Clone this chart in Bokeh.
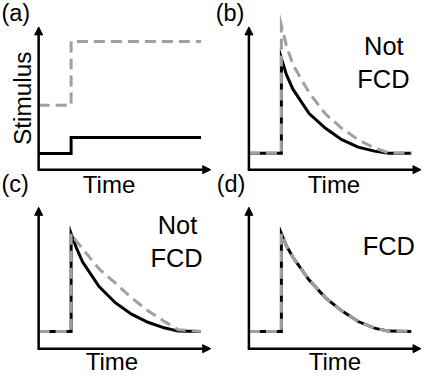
import numpy as np
from bokeh.plotting import figure
from bokeh.models import Range1d, Arrow, NormalHead, Label
from bokeh.embed import file_html
from bokeh.resources import INLINE

# ---------------- data ----------------
# (a) stimuli: time and stimulus level
stim_time = [0, 2, 2, 10]
stim_black = [1.0, 1.0, 2.0, 2.0]
stim_gray = [4.0, 4.0, 7.95, 7.95]

# response time samples
resp_time = [0, 2, 2, 2.31, 2.71, 3.71, 4.72, 5.72, 6.73, 7.73, 8.6, 10]

# (b) Not FCD
resp_b_black = [0.116, 0.116, 0.78, 0.665, 0.564, 0.393, 0.29, 0.21, 0.158, 0.13, 0.116, 0.116]
resp_b_gray = [0.116, 0.116, 1.01, 0.87, 0.735, 0.54, 0.39, 0.29, 0.21, 0.153, 0.118, 0.116]

# (c) Not FCD
resp_c_black = [0.121, 0.121, 0.806, 0.71, 0.607, 0.436, 0.322, 0.242, 0.185, 0.146, 0.123, 0.121]
resp_c_gray = [0.121, 0.121, 0.806, 0.755, 0.70, 0.56, 0.46, 0.356, 0.265, 0.192, 0.132, 0.121]

# (d) FCD (both responses identical)
resp_d_black = [0.121, 0.121, 0.806, 0.72, 0.64, 0.48, 0.356, 0.265, 0.19, 0.144, 0.123, 0.121]
resp_d_gray = list(resp_d_black)

panel_letters = ["(a)", "(b)", "(c)", "(d)"]

# ---------------- layout constants ----------------
# positions are given in reference-image pixels and mapped into the figure
W, H = 423, 374
S = 0.978            # reference px -> figure px
RX0, RY0 = 6.0, 6.0  # reference px at the figure's top-left corner
PX_T = 16.6      # ref px per time unit
PX_R = 146.0     # ref px per response unit
PX_S = 16.5      # ref px per stimulus unit
origins = {"a": (45, 179), "b": (260, 179), "c": (45, 362), "d": (260, 362)}
yscale = {"a": PX_S, "b": PX_R, "c": PX_R, "d": PX_R}
ytip = {"a": 8.85, "b": 1.0, "c": 0.99, "d": 0.99}
XTIP = 10.6

FONT = "Liberation Sans"
BLACK = "#000000"
GRAY = "#a0a0a0"

XW, YH = W / S, H / S
# default ranges: x = ref px from left, y = -(ref px from top)
p = figure(width=W, height=H,
           x_range=Range1d(RX0, RX0 + XW), y_range=Range1d(-(RY0 + YH), -RY0),
           x_axis_type=None, y_axis_type=None,
           output_backend="svg", toolbar_location=None, min_border=0, title=None)
p.outline_line_color = None
p.background_fill_color = "white"

xr, yr = {}, {}
for k, (ox, oy) in origins.items():
    py = yscale[k]
    xr["x" + k] = Range1d((RX0 - ox) / PX_T, (RX0 + XW - ox) / PX_T)
    yr["y" + k] = Range1d((oy - (RY0 + YH)) / py, (oy - RY0) / py)
p.extra_x_ranges = xr
p.extra_y_ranges = yr

# axes with arrows
for k in origins:
    kw = dict(x_range_name="x" + k, y_range_name="y" + k, line_width=2.5, line_color=BLACK)
    p.add_layout(Arrow(x_start=-0.07, y_start=0, x_end=XTIP, y_end=0,
                       end=NormalHead(size=8, fill_color=BLACK, line_color=BLACK, line_width=1), **kw))
    p.add_layout(Arrow(x_start=0, y_start=0, x_end=0, y_end=ytip[k],
                       end=NormalHead(size=8, fill_color=BLACK, line_color=BLACK, line_width=1), **kw))

series = {
    "a": (stim_time, stim_black, stim_gray),
    "b": (resp_time, resp_b_black, resp_b_gray),
    "c": (resp_time, resp_c_black, resp_c_gray),
    "d": (resp_time, resp_d_black, resp_d_gray),
}
for k, (t, yb, yg) in series.items():
    p.line(t, yb, x_range_name="x" + k, y_range_name="y" + k,
           line_color=BLACK, line_width=3, line_join="miter")
    p.line(t, yg, x_range_name="x" + k, y_range_name="y" + k,
           line_color=GRAY, line_width=3, line_dash="11 6", line_join="miter")

def lab(x, y, text, fs, align="left", angle=0):
    # (x, y) = reference position of the text's middle line
    p.add_layout(Label(x=x, y=-y, text=text, text_font=FONT,
                       text_font_size=f"{fs * S:.1f}px", text_align=align,
                       text_baseline="middle", angle=angle, angle_units="deg",
                       text_color=BLACK))

def lab_base(x, base, text, fs, align="left"):
    # base = reference baseline; converted to the middle line
    lab(x, base - 0.35 * fs, text, fs, align)

# panel letters
for (x, y), t in zip([(7, 27), (226, 27), (7, 202.5), (227, 202.5)], panel_letters):
    lab_base(x, y, t, 24)

# rotated y label of panel (a): baseline at x=37, centred at y=106
lab(37 - 0.35 * 25, 106, "Stimulus", 25, align="center", angle=90)

# x labels
for x, y in [(117, 203), (347, 203), (120, 384), (348, 384)]:
    lab_base(x, y, "Time", 24.5, align="center")

# verdicts
lab_base(398, 62, "Not", 26, align="center")
lab_base(397.5, 95, "FCD", 26, align="center")
lab_base(187, 245, "Not", 26, align="center")
lab_base(186, 278, "FCD", 26, align="center")
lab_base(403, 266, "FCD", 26, align="center")

open("out.html", "w").write(file_html(p, INLINE))
